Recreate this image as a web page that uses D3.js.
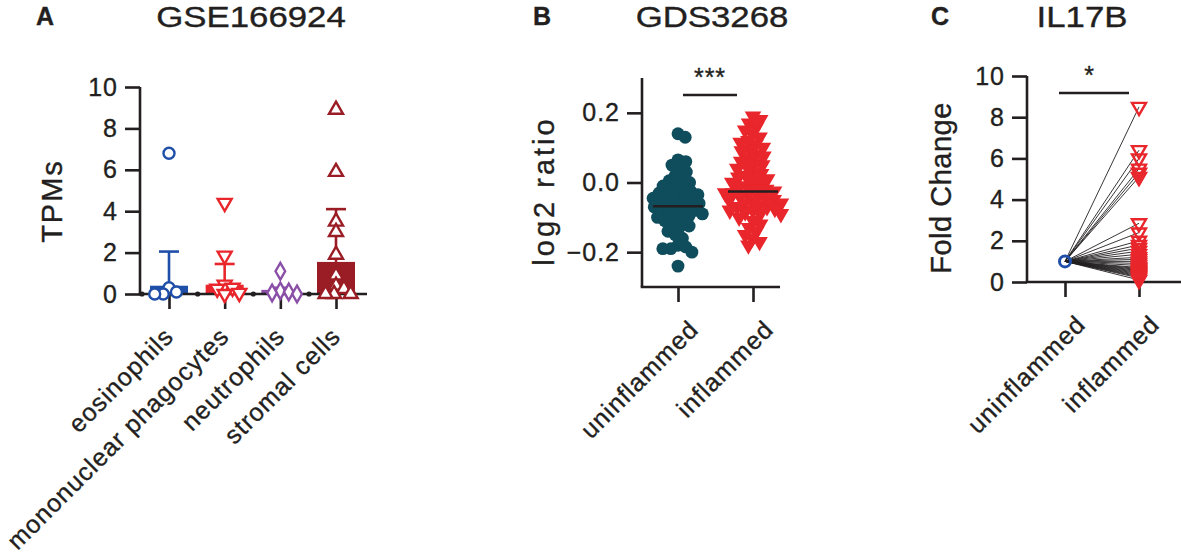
<!DOCTYPE html>
<html>
<head>
<meta charset="utf-8">
<script src="https://cdn.jsdelivr.net/npm/d3@7"></script>
<style>
  body { margin: 0; background: #fff; }
  text { font-family: "Liberation Sans", Arial, sans-serif; fill: #231f20; stroke: #231f20; stroke-width: 0.35px; }
</style>
</head>
<body>
<svg id="chart" width="1181" height="559"></svg>
<script>
// ---- data: panel A (GSE166924) ----
var cellTypes = ["eosinophils", "mononuclear phagocytes", "neutrophils", "stromal cells"];
var tpmEos = [6.8, 0.3, 0.1, 0, 0];
var tpmMono = [4.4, 1.85, 0.45, 0.3, 0.25, 0.05, 0.0];
var tpmNeutro = [1.1, 0.15, 0.1, 0.05, 0.0];
var tpmStromal = [8.9, 5.9, 3.5, 3.0, 1.9, 0.9, 0.4, 0.25, 0, 0, 0];
var tpmBar = [0.4, 0.45, 0.2, 1.55];
var tpmErrTop = [2.05, 1.45, 0.3, 4.1];
var tpmTicks = [0, 2, 4, 6, 8, 10];

// ---- data: panel B (GDS3268) ----
var groupsB = ["uninflammed", "inflammed"];
var log2Unifl = [0.14, 0.13, 0.065, 0.06, 0.05, 0.04, 0.03, 0.02, 0.01, 0.005, 0.0, -0.005,
  -0.01, -0.015, -0.02, -0.025, -0.03, -0.03, -0.035, -0.04, -0.04, -0.045, -0.05, -0.05,
  -0.055, -0.06, -0.06, -0.065, -0.07, -0.07, -0.075, -0.08, -0.08, -0.085, -0.09, -0.09,
  -0.095, -0.10, -0.10, -0.11, -0.11, -0.12, -0.125, -0.13, -0.14, -0.15, -0.16, -0.18,
  -0.185, -0.19, -0.19, -0.20, -0.24];
var log2Infl = [0.19, 0.18, 0.17, 0.16, 0.15, 0.14, 0.13, 0.12, 0.115, 0.11, 0.10, 0.095,
  0.09, 0.08, 0.075, 0.07, 0.06, 0.055, 0.05, 0.045, 0.04, 0.03, 0.025, 0.02, 0.015, 0.01,
  0.005, 0.0, -0.005, -0.01, -0.015, -0.02, -0.02, -0.025, -0.03, -0.03, -0.035, -0.04,
  -0.04, -0.045, -0.05, -0.05, -0.055, -0.06, -0.06, -0.065, -0.07, -0.07, -0.075, -0.08,
  -0.08, -0.085, -0.09, -0.09, -0.10, -0.11, -0.12, -0.13, -0.14, -0.15, -0.16, -0.17, -0.18];
var log2Median = [-0.068, -0.026];
var log2Ticks = [-0.2, 0.0, 0.2];

// ---- data: panel C (IL17B) ----
var groupsC = ["uninflammed", "inflammed"];
var foldUnifl = 1.0;
var foldInfl = [8.5, 6.4, 6.0, 5.5, 5.3, 5.1, 2.85, 2.4, 2.0, 1.8, 1.65, 1.5, 1.35, 1.2,
  1.1, 1.0, 0.9, 0.8, 0.7, 0.65, 0.6, 0.55, 0.5, 0.45, 0.4, 0.35, 0.3, 0.25, 0.2, 0.1];
var foldTicks = [0, 2, 4, 6, 8, 10];

var ink = "#231f20";
var colorsA = ["#1f4fa8", "#e8262b", "#8a4fa6", "#9a1c24"];
var colorsB = ["#0f4c5c", "#e8262b"];

var svg = d3.select("#chart");

// simple beeswarm: horizontal offsets so markers don't overlap
function swarm(values, y, D) {
    var pts = values.map(function (v) { return { v: v, y: y(v), dx: 0 }; })
        .sort(function (a, b) { return a.y - b.y; });
    var placed = [];
    pts.forEach(function (p) {
        var cands = [0];
        placed.forEach(function (q) {
            var dy = Math.abs(q.y - p.y);
            if (dy < D) {
                var w = Math.sqrt(D * D - dy * dy);
                cands.push(q.dx + w, q.dx - w);
            }
        });
        cands.sort(function (a, b) { return Math.abs(a) - Math.abs(b); });
        for (var i = 0; i < cands.length; i++) {
            var c = cands[i];
            var ok = placed.every(function (q) {
                return (q.dx - c) * (q.dx - c) + (q.y - p.y) * (q.y - p.y) >= D * D - 0.01;
            });
            if (ok) { p.dx = c; break; }
        }
        placed.push(p);
    });
    return pts;
}

// axes helper
function drawAxes(g, x, y, ticks, fmt, xLeft, xRight, yBase, labelDx) {
    var ya = g.append("g")
        .attr("transform", "translate(" + xLeft + ",0)")
        .call(d3.axisLeft(y).tickValues(ticks).tickFormat(fmt).tickSize(15).tickSizeOuter(0).tickPadding(7));
    ya.select(".domain").remove();
    ya.append("line")
        .attr("y1", y.range()[1]).attr("y2", yBase)
        .attr("stroke", ink).attr("stroke-width", 2.6);
    ya.selectAll(".tick line").attr("stroke", ink).attr("stroke-width", 2.6);
    ya.selectAll(".tick text")
        .style("font-size", "25px").style("letter-spacing", "1px").attr("fill", ink);

    var xa = g.append("g")
        .attr("transform", "translate(0," + yBase + ")")
        .call(d3.axisBottom(x).tickSize(15).tickSizeOuter(0).tickFormat(""));
    xa.select(".domain").remove();
    xa.append("line")
        .attr("x1", xLeft - 1.3).attr("x2", xRight)
        .attr("stroke", ink).attr("stroke-width", 2.6);
    xa.selectAll(".tick line").attr("stroke", ink).attr("stroke-width", 2.6);

    g.append("g").selectAll("text")
        .data(x.domain())
        .enter()
        .append("text")
        .attr("transform", function (d) {
            return "translate(" + (x(d) + labelDx) + "," + (yBase + 44) + ") rotate(-45)";
        })
        .attr("text-anchor", "end")
        .style("font-size", "25px")
        .style("letter-spacing", "1px")
        .text(function (d) { return d; });
}

function yLabel(g, text, x, y, spacing) {
    g.append("text")
        .attr("transform", "translate(" + x + "," + y + ") rotate(-90)")
        .attr("text-anchor", "middle")
        .style("font-size", "29px")
        .style("letter-spacing", spacing + "px")
        .text(text);
}

function heading(letter, lx, title, tx) {
    svg.append("text")
        .attr("x", lx).attr("y", 25)
        .attr("text-anchor", "middle")
        .style("font-size", "25px").style("font-weight", "bold")
        .text(letter);
    svg.append("text")
        .attr("transform", "translate(" + tx + ",27) scale(1.2,1)")
        .attr("text-anchor", "middle")
        .style("font-size", "29px")
        .text(title);
}

// marker paths
var symCircle = d3.symbol().type(d3.symbolCircle).size(95);
var symTri = d3.symbol().type(d3.symbolTriangle).size(85);
var symDiamond = d3.symbol().type(d3.symbolDiamond).size(80);

// ---------------- Panel A ----------------
(function () {
    var g = svg.append("g");
    var x = d3.scalePoint().domain(cellTypes).range([169, 336]);
    var y = d3.scaleLinear().domain([0, 10]).range([294, 87]);
    var groups = [tpmEos, tpmMono, tpmNeutro, tpmStromal];
    var shapes = [
        { s: symCircle, r: 0 },
        { s: symTri, r: 180 },
        { s: symDiamond, r: 0 },
        { s: symTri, r: 0 }
    ];
    var bw = 38;

    heading("A", 45, "GSE166924", 251);
    yLabel(g, "TPMs", 62, 201, 2);

    // bars
    g.selectAll("rect.bar")
        .data(cellTypes)
        .enter()
        .append("rect")
        .attr("class", "bar")
        .attr("x", function (d) { return x(d) - bw / 2; })
        .attr("width", bw)
        .attr("y", function (d, i) { return y(tpmBar[i]); })
        .attr("height", function (d, i) { return y(0) - y(tpmBar[i]); })
        .attr("fill", function (d, i) { return colorsA[i]; });

    // error bars
    var eb = g.selectAll("g.err")
        .data(cellTypes)
        .enter()
        .append("g")
        .attr("stroke", function (d, i) { return colorsA[i]; })
        .attr("stroke-width", 2.6);
    eb.append("line")
        .attr("x1", function (d) { return x(d); })
        .attr("x2", function (d) { return x(d); })
        .attr("y1", function (d, i) { return y(tpmBar[i]); })
        .attr("y2", function (d, i) { return y(tpmErrTop[i]); });
    eb.append("line")
        .attr("x1", function (d) { return x(d) - 10; })
        .attr("x2", function (d) { return x(d) + 10; })
        .attr("y1", function (d, i) { return y(tpmErrTop[i]); })
        .attr("y2", function (d, i) { return y(tpmErrTop[i]); });

    drawAxes(g, x, y, tpmTicks, d3.format("d"), 140, 367, 294, 6);

    // small dots on the baseline between groups
    g.selectAll("circle.sep")
        .data(cellTypes)
        .enter()
        .append("circle")
        .attr("cx", function (d) { return x(d) - 27; })
        .attr("cy", y(0))
        .attr("r", 2.6)
        .attr("fill", ink);

    // points
    groups.forEach(function (vals, i) {
        var pts = swarm(vals, y, 8.5);
        g.append("g").selectAll("path")
            .data(pts)
            .enter()
            .append("path")
            .attr("d", shapes[i].s)
            .attr("transform", function (p) {
                return "translate(" + (x(cellTypes[i]) + p.dx) + "," + p.y + ") rotate(" + shapes[i].r + ")";
            })
            .attr("fill", "#fff")
            .attr("stroke", colorsA[i])
            .attr("stroke-width", 2.4);
    });
})();

// ---------------- Panel B ----------------
(function () {
    var g = svg.append("g");
    var x = d3.scalePoint().domain(groupsB).range([678, 753]);
    var y = d3.scaleLinear().domain([-0.3, 0.3]).range([287, 78]);

    heading("B", 542, "GDS3268", 712);
    yLabel(g, "log2 ratio", 554, 191, 3);

    drawAxes(g, x, y, log2Ticks, d3.format(".1f"), 642, 780, 287, 22);

    var dotSym = d3.symbol().type(d3.symbolCircle).size(130);
    var triSym = d3.symbol().type(d3.symbolTriangle).size(120);
    [log2Unifl, log2Infl].forEach(function (vals, i) {
        var pts = swarm(vals, y, 8);
        g.append("g").selectAll("path")
            .data(pts)
            .enter()
            .append("path")
            .attr("d", i === 0 ? dotSym : triSym)
            .attr("transform", function (p) {
                return "translate(" + (x(groupsB[i]) + p.dx) + "," + p.y + ")" + (i === 1 ? " rotate(180)" : "");
            })
            .attr("fill", colorsB[i]);
    });

    // medians
    g.selectAll("line.med")
        .data(groupsB)
        .enter()
        .append("line")
        .attr("x1", function (d) { return x(d) - 25; })
        .attr("x2", function (d) { return x(d) + 25; })
        .attr("y1", function (d, i) { return y(log2Median[i]); })
        .attr("y2", function (d, i) { return y(log2Median[i]); })
        .attr("stroke", ink).attr("stroke-width", 2.6);

    // significance
    g.append("line")
        .attr("x1", 683).attr("x2", 737).attr("y1", 95).attr("y2", 95)
        .attr("stroke", ink).attr("stroke-width", 2.6);
    g.append("text")
        .attr("x", 710).attr("y", 86).attr("text-anchor", "middle")
        .style("font-size", "25px").style("letter-spacing", "1px")
        .text("***");
})();

// ---------------- Panel C ----------------
(function () {
    var g = svg.append("g");
    var x = d3.scalePoint().domain(groupsC).range([1065, 1139]);
    var y = d3.scaleLinear().domain([0, 10]).range([282, 76]);

    heading("C", 940, "IL17B", 1082);
    yLabel(g, "Fold Change", 951, 188, 0.5);

    drawAxes(g, x, y, foldTicks, d3.format("d"), 1027, 1181, 282, 22);

    // paired lines
    g.append("g").selectAll("line")
        .data(foldInfl)
        .enter()
        .append("line")
        .attr("x1", x(groupsC[0]))
        .attr("y1", y(foldUnifl))
        .attr("x2", x(groupsC[1]))
        .attr("y2", function (d) { return y(d); })
        .attr("stroke", ink)
        .attr("stroke-width", 0.9);

    g.append("path")
        .attr("d", symCircle)
        .attr("transform", "translate(" + x(groupsC[0]) + "," + y(foldUnifl) + ")")
        .attr("fill", "none")
        .attr("stroke", "#1f4fa8")
        .attr("stroke-width", 3);

    g.append("g").selectAll("path")
        .data(foldInfl)
        .enter()
        .append("path")
        .attr("d", symTri)
        .attr("transform", function (d) {
            return "translate(" + x(groupsC[1]) + "," + y(d) + ") rotate(180)";
        })
        .attr("fill", "none")
        .attr("stroke", "#e8262b")
        .attr("stroke-width", 2.4);

    // significance
    g.append("line")
        .attr("x1", 1059).attr("x2", 1129).attr("y1", 93).attr("y2", 93)
        .attr("stroke", ink).attr("stroke-width", 2.6);
    g.append("text")
        .attr("x", 1089).attr("y", 84).attr("text-anchor", "middle")
        .style("font-size", "25px")
        .text("*");
})();
</script>
</body>
</html>
